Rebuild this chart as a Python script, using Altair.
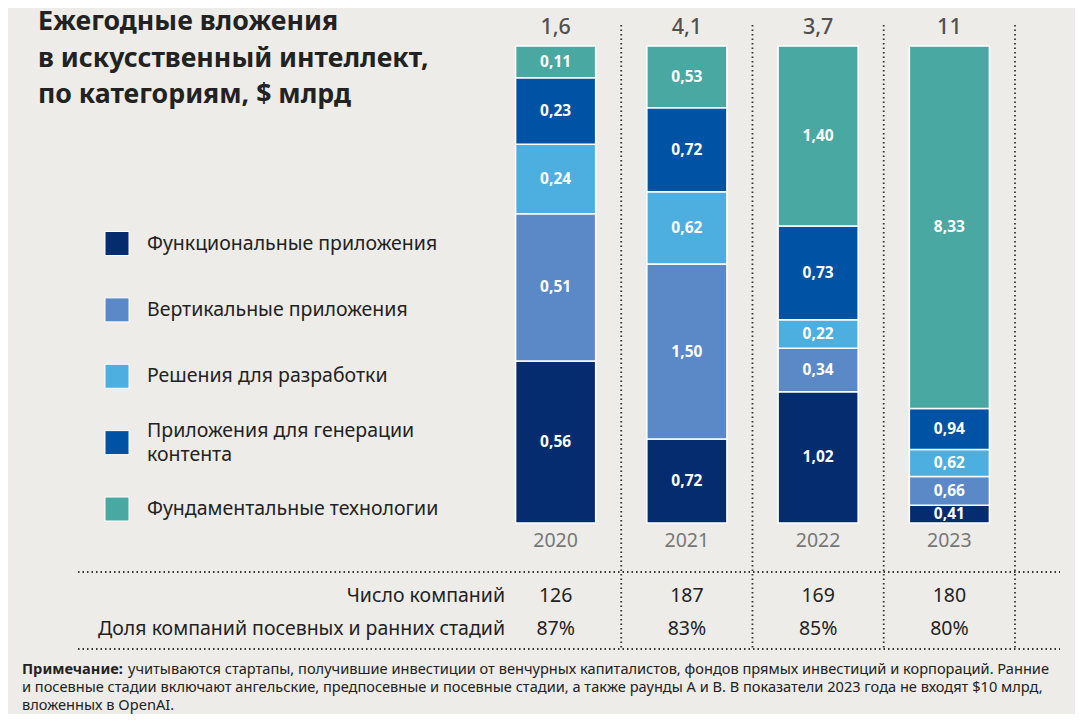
import altair as alt
import pandas as pd

# ---------------- data ----------------
years = ["2020", "2021", "2022", "2023"]
categories = [
    "Функциональные приложения",
    "Вертикальные приложения",
    "Решения для разработки",
    "Приложения для генерации контента",
    "Фундаментальные технологии",
]
functional = [0.56, 0.72, 1.02, 0.41]
vertical = [0.51, 1.50, 0.34, 0.66]
dev_tools = [0.24, 0.62, 0.22, 0.62]
content_gen = [0.23, 0.72, 0.73, 0.94]
foundation = [0.11, 0.53, 1.40, 8.33]
totals = ["1,6", "4,1", "3,7", "11"]
companies = ["126", "187", "169", "180"]
early_share = ["87%", "83%", "85%", "80%"]
row_labels = ["Число компаний", "Доля компаний посевных и ранних стадий"]
title_lines = ["Ежегодные вложения", "в искусственный интеллект,", "по категориям, $ млрд"]
note_head = "Примечание:"
note_first = ("учитываются стартапы, получившие инвестиции от венчурных капиталистов, "
              "фондов прямых инвестиций и корпораций. Ранние")
note_rest = [
    "и посевные стадии включают ангельские, предпосевные и посевные стадии, а также раунды A и B. "
    "В показатели 2023 года не входят $10 млрд,",
    "вложенных в OpenAI.",
]
colors = ["#052C6E", "#5B88C6", "#4DAEE0", "#0052A4", "#4AA8A2"]

series = [functional, vertical, dev_tools, content_gen, foundation]
rows = []
for ci, (cat, vals) in enumerate(zip(categories, series)):
    for y, v in zip(years, vals):
        rows.append({"year": y, "category": cat, "value": v, "order": ci})
df = pd.DataFrame(rows)
df_years = pd.DataFrame({"year": years, "total": totals, "companies": companies, "share": early_share})
df_legend = pd.DataFrame({"category": categories})
one = pd.DataFrame({"k": [0]})

FONT = "Noto Sans"
BG = "#EDECE8"
LONG = "Приложения для генерации контента"

x_enc = alt.X("year:N", axis=None,
              scale=alt.Scale(domain=years, range=[482, 1007], paddingInner=0.39, paddingOuter=0.195))
y_scale = alt.Scale(domain=[0, 1], range=[515, 38])
color_scale = alt.Scale(domain=categories, range=colors)
leg_y = alt.Y("category:N", axis=None,
              scale=alt.Scale(type="point", domain=categories, range=[235.5, 501], padding=0))

# dotted separators
vsep = alt.Chart(df_years).mark_rule(
    stroke="#333333", strokeWidth=1.8, strokeDash=[1.5, 3], xOffset=65.6
).encode(x=x_enc, y=alt.value(17), y2=alt.value(642))

hline1 = alt.Chart(one).mark_rule(stroke="#333333", strokeWidth=1.8, strokeDash=[1.5, 3]).encode(
    x=alt.value(70), x2=alt.value(1052), y=alt.value(564))
hline2 = alt.Chart(one).mark_rule(stroke="#333333", strokeWidth=1.8, strokeDash=[1.5, 3]).encode(
    x=alt.value(70), x2=alt.value(1052), y=alt.value(641))

stacked = alt.Chart(df).transform_stack(
    stack="value", as_=["y0", "y1"], groupby=["year"], offset="normalize",
    sort=[alt.SortField("order", "ascending")]
).transform_calculate(
    ymid="(datum.y0 + datum.y1) / 2",
    label="replace(format(datum.value, '.2f'), '.', ',')",
)

bars = stacked.mark_bar(stroke="white", strokeWidth=1.5).encode(
    x=x_enc,
    y=alt.Y("y0:Q", scale=y_scale, axis=None),
    y2="y1:Q",
    color=alt.Color("category:N", scale=color_scale, legend=None),
)

seg_labels = stacked.mark_text(
    color="white", font=FONT, fontSize=15.5, fontWeight="bold", baseline="middle"
).encode(x=x_enc, y=alt.Y("ymid:Q", scale=y_scale, axis=None), text="label:N")

# legend (drawn from the same colour scale)
leg_sq = alt.Chart(df_legend).mark_square(size=576, stroke="white", strokeWidth=1, opacity=1).encode(
    x=alt.value(109), y=leg_y, color=alt.Color("category:N", scale=color_scale, legend=None))
leg_txt1 = alt.Chart(df_legend).transform_filter(
    alt.datum.category != LONG
).mark_text(color="#222222", font=FONT, fontSize=19.5, align="left", baseline="middle").encode(
    x=alt.value(139), y=leg_y, text="category:N")
leg_txt2 = alt.Chart(df_legend).transform_filter(
    alt.datum.category == LONG
).transform_calculate(
    lines="['Приложения для генерации', 'контента']"
).mark_text(color="#222222", font=FONT, fontSize=19.5, align="left", baseline="middle",
            lineHeight=24, dy=-12).encode(
    x=alt.value(139), y=leg_y, text="lines:N")

total_text = alt.Chart(df_years).mark_text(
    color="#505050", font=FONT, fontSize=21.5, fontWeight=500, baseline="middle"
).encode(x=x_enc, y=alt.value(20), text="total:N")

year_text = alt.Chart(df_years).mark_text(
    color="#777777", font=FONT, fontSize=19.5, baseline="middle"
).encode(x=x_enc, y=alt.value(533), text="year:N")

comp_text = alt.Chart(df_years).mark_text(
    color="#222222", font=FONT, fontSize=19.5, baseline="middle"
).encode(x=x_enc, y=alt.value(588), text="companies:N")

share_text = alt.Chart(df_years).mark_text(
    color="#222222", font=FONT, fontSize=19.5, baseline="middle"
).encode(x=x_enc, y=alt.value(621), text="share:N")

row1 = alt.Chart(one).mark_text(
    text=row_labels[0], color="#222222", font=FONT, fontSize=19.5, align="right", baseline="middle"
).encode(x=alt.value(497), y=alt.value(588))
row2 = alt.Chart(one).mark_text(
    text=row_labels[1], color="#222222", font=FONT, fontSize=19.5, align="right", baseline="middle"
).encode(x=alt.value(497), y=alt.value(621))

title = alt.Chart(one).mark_text(
    text=title_lines, color="#222222", font=FONT, fontSize=26.7, fontWeight="bold",
    align="left", baseline="alphabetic", lineHeight=36.5
).encode(x=alt.value(30), y=alt.value(22))

note1 = alt.Chart(one).mark_text(
    text=note_head, color="#222222", font=FONT, fontSize=14.6, fontWeight="bold",
    align="left", baseline="middle"
).encode(x=alt.value(14), y=alt.value(662))
note2 = alt.Chart(one).mark_text(
    text=note_first, color="#222222", font=FONT, fontSize=14.6,
    align="left", baseline="middle"
).encode(x=alt.value(120), y=alt.value(662))
note3 = alt.Chart(one).mark_text(
    text=note_rest, color="#222222", font=FONT, fontSize=14.6,
    align="left", baseline="middle", lineHeight=18
).encode(x=alt.value(14), y=alt.value(680))

chart = alt.layer(
    vsep, hline1, hline2, bars, seg_labels, leg_sq, leg_txt1, leg_txt2,
    total_text, year_text, comp_text, share_text,
    row1, row2, title, note1, note2, note3
).resolve_scale(y="independent").properties(
    width=1067, height=706, padding=0, autosize=alt.AutoSizeParams(type="none"),
    background=BG,
).configure_view(stroke=None)

chart.save("out.html", embed_options={"renderer": "svg", "actions": False})
